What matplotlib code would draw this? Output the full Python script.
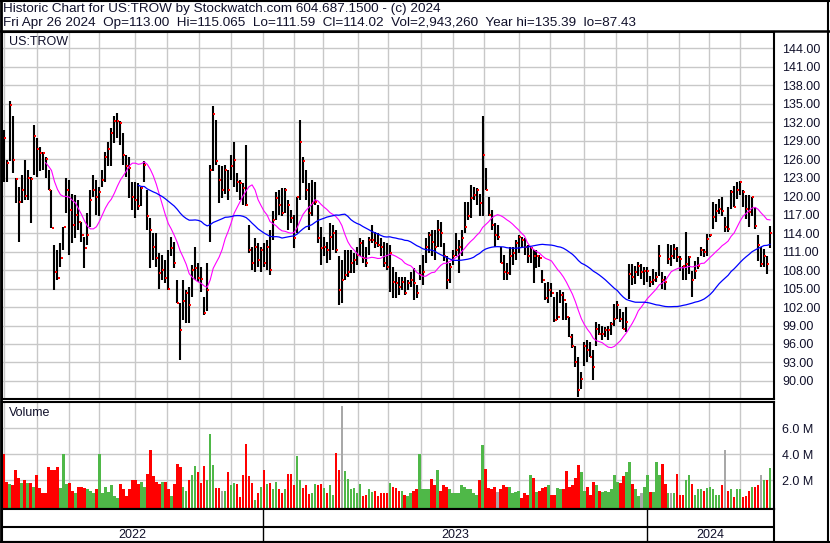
import numpy as np
import pandas as pd
import matplotlib
matplotlib.use('Agg')
import matplotlib.pyplot as plt
from matplotlib.lines import Line2D

plt.rcParams['font.family'] = ['Liberation Sans', 'DejaVu Sans']

# price bars, one entry per ~2 sessions (May 2022 - Apr 26 2024)
hi = [130.7, 125.85, 135.39, 132.9, 122.9, 121.5, 123.4, 125.85, 124.2, 123.1,
      131.5, 129.4, 128.0, 127.2, 126.4, 124.2, 121.0, 112.1, 111.3, 112.3,
      115.0, 122.9, 122.6, 120.4, 120.2, 119.4, 115.85, 113.4, 117.2, 121.0,
      123.4, 122.6, 121.5, 124.2, 127.2, 128.8, 131.0, 132.9, 133.4, 132.1,
      130.2, 126.7, 126.4, 122.3, 122.3, 122.1, 121.5, 125.6, 121.0, 116.4,
      113.95, 113.95, 110.7, 110.4, 109.6, 111.3, 113.4, 112.6, 106.4, 102.6,
      106.4, 104.8, 105.3, 108.8, 111.8, 109.1, 108.5,
      103.7, 109.1, 125.0, 134.6, 132.3, 125.0, 124.8, 125.0, 124.2, 126.7,
      128.8, 123.7, 122.6, 122.1, 128.3, 115.3, 111.8, 113.15, 112.3, 111.8,
      112.3, 112.9, 114.5, 117.5, 120.7, 121.0, 121.25, 121.25, 119.4, 117.7,
      116.9, 119.9, 132.4, 126.4, 124.2, 122.1, 122.6, 122.3, 118.5, 115.0,
      113.4, 112.6, 115.6, 115.3, 114.5, 110.2, 109.6, 111.3, 111.3, 111.3,
      110.7, 111.8, 113.15, 112.9, 111.8, 113.4, 115.3, 114.2, 113.95, 113.15,
      112.6, 112.3, 112.1,
      108.5, 107.7, 106.9, 106.9, 106.9, 106.4, 107.7, 108.3, 105.6, 108.8,
      110.4, 113.15, 114.2, 114.5, 114.5, 116.1, 115.85, 112.3, 110.2, 109.1,
      111.3, 113.95, 112.9, 114.5, 119.1, 119.1, 121.8, 121.5, 121.25, 120.4,
      132.9, 124.5, 119.9, 117.7, 115.6, 115.3, 111.8, 110.4, 109.1, 111.8,
      111.8, 112.9, 113.7, 113.4, 113.15, 112.1, 111.8, 111.3, 111.3, 110.4,
      108.0, 105.9, 106.1, 105.9, 103.7, 104.5, 104.8, 104.5, 102.6, 100.4,
      97.7, 95.6, 93.95,
      91.4, 96.3, 96.6, 96.3, 94.95, 99.6, 99.3, 99.0, 98.7, 99.0,
      99.6, 102.5, 103.05, 101.7, 101.2, 102.0, 109.0, 109.0, 108.7, 109.3,
      109.0, 108.5, 108.5, 107.1, 108.2, 107.65, 112.0, 107.65, 107.1, 112.25,
      112.0, 112.25, 111.7, 110.35, 108.7, 114.1, 110.35, 107.9, 109.5, 110.1,
      111.7, 111.4, 113.9, 113.9, 119.0, 118.7, 119.5, 119.8, 116.6, 118.2,
      120.9, 121.7, 122.25, 122.5, 120.9, 120.1, 120.1, 119.8, 118.2, 113.6,
      111.7, 111.4, 110.35, 115.065]

lo = [122.3, 122.3, 125.6, 123.7, 118.8, 112.6, 118.8, 119.4, 119.4, 115.6,
      123.4, 123.1, 124.0, 124.2, 122.9, 121.0, 114.8, 104.8, 106.4, 108.5,
      111.3, 117.2, 110.4, 112.3, 113.15, 114.5, 112.6, 108.3, 112.1, 115.0,
      119.9, 116.9, 116.7, 121.5, 122.3, 124.8, 124.8, 128.6, 129.4, 128.3,
      125.0, 123.1, 119.6, 117.7, 116.4, 117.7, 118.3, 122.3, 114.5, 108.3,
      109.6, 108.5, 105.0, 106.4, 105.9, 104.8, 110.2, 108.3, 102.6, 93.4,
      99.9, 99.4, 99.4, 103.7, 106.4, 106.1, 104.5,
      100.7, 101.3, 112.6, 124.0, 125.0, 118.8, 119.6, 120.4, 119.4, 122.6,
      121.5, 120.7, 119.4, 118.5, 118.3, 110.7, 108.0, 107.7, 108.5, 107.7,
      108.5, 108.0, 107.2, 112.9, 116.1, 116.9, 116.7, 117.2, 114.5, 115.6,
      111.5, 113.95, 119.4, 122.1, 119.4, 114.5, 116.7, 118.5, 112.3, 108.8,
      110.2, 109.1, 109.6, 111.3, 110.7, 102.3, 102.6, 106.4, 106.9, 107.5,
      107.5, 108.8, 110.2, 109.1, 108.5, 110.4, 112.3, 111.5, 111.8, 110.2,
      108.5, 108.0, 104.5,
      103.4, 103.4, 104.0, 104.8, 104.0, 104.8, 105.3, 103.1, 103.4, 106.4,
      105.6, 109.1, 110.7, 110.2, 109.6, 111.8, 111.8, 109.4, 105.0, 105.9,
      108.8, 110.2, 107.5, 110.2, 113.95, 116.1, 116.4, 119.4, 118.5, 116.7,
      116.7, 121.0, 116.7, 114.5, 111.8, 112.9, 109.1, 106.4, 106.4, 107.2,
      108.8, 109.6, 110.7, 111.5, 110.4, 109.1, 109.1, 105.9, 108.3, 108.5,
      105.9, 103.1, 102.6, 103.7, 99.6, 99.9, 102.6, 99.9, 99.9, 97.2,
      95.3, 92.3, 87.43,
      88.7, 92.5, 93.05, 93.9, 90.1, 95.75, 97.4, 96.6, 97.1, 96.6,
      97.4, 99.0, 100.1, 99.6, 98.5, 97.9, 103.3, 105.5, 105.8, 107.1,
      106.6, 105.5, 106.0, 105.2, 105.5, 106.0, 107.1, 105.0, 104.7, 109.0,
      108.7, 109.8, 109.3, 107.9, 106.3, 106.3, 107.4, 103.6, 106.6, 108.2,
      110.35, 110.1, 110.35, 113.3, 114.7, 115.8, 117.1, 116.8, 114.1, 114.1,
      117.9, 118.2, 119.5, 120.1, 118.2, 116.3, 115.0, 116.8, 114.7, 109.5,
      108.5, 108.5, 107.4, 111.59]

cl = [129.4, 125.3, 134.7, 125.85, 122.8, 119.1, 121.0, 120.0, 122.9, 122.8,
      129.8, 127.6, 127.0, 126.9, 126.0, 121.0, 114.8, 107.7, 106.7, 109.9,
      115.0, 121.0, 117.7, 115.3, 116.9, 115.85, 113.7, 111.5, 113.6, 119.4,
      121.0, 119.9, 120.7, 122.6, 126.4, 127.7, 130.2, 132.1, 132.2, 131.8,
      126.7, 124.8, 124.5, 119.9, 119.4, 118.3, 121.25, 125.0, 116.7, 114.5,
      111.8, 109.9, 107.5, 108.0, 106.7, 104.9, 111.5, 109.1, 102.7, 98.3,
      102.9, 104.2, 102.3, 108.0, 108.3, 106.7, 106.5,
      101.1, 104.8, 124.2, 133.3, 125.6, 122.6, 121.0, 124.2, 121.0, 124.8,
      125.85, 122.3, 122.1, 121.25, 118.5, 111.3, 109.1, 111.8, 109.6, 111.3,
      109.1, 111.8, 108.0, 116.1, 119.6, 118.5, 117.2, 121.0, 118.5, 116.5,
      113.15, 119.9, 128.7, 125.7, 121.0, 117.2, 118.8, 119.1, 113.15, 111.5,
      111.8, 111.3, 113.4, 113.95, 111.3, 104.8, 106.4, 107.2, 107.7, 109.1,
      109.6, 110.4, 112.3, 109.9, 109.1, 112.9, 112.9, 112.3, 112.1, 111.8,
      109.1, 108.5, 110.7,
      106.0, 105.9, 105.3, 106.1, 104.2, 105.9, 106.4, 105.9, 104.2, 107.2,
      107.7, 111.8, 113.7, 112.6, 111.8, 114.5, 113.95, 110.2, 106.4, 108.5,
      110.2, 111.3, 111.8, 113.15, 115.0, 116.7, 119.6, 120.2, 121.0, 118.8,
      126.7, 121.0, 116.9, 115.3, 113.7, 113.4, 109.1, 107.7, 107.5, 110.2,
      110.7, 112.3, 113.4, 112.9, 111.8, 110.2, 111.5, 110.2, 110.2, 109.9,
      106.4, 103.4, 104.8, 104.2, 99.9, 100.4, 104.0, 103.1, 100.4, 97.2,
      95.6, 93.1, 88.6,
      90.35, 95.75, 94.95, 93.9, 92.25, 98.5, 97.65, 97.65, 98.2, 98.2,
      99.3, 100.1, 102.25, 100.1, 98.5, 99.6, 107.4, 106.8, 107.65, 108.7,
      107.65, 107.9, 107.9, 106.0, 106.3, 106.8, 110.35, 106.3, 106.0, 109.8,
      110.35, 111.4, 110.1, 109.8, 108.7, 109.0, 110.1, 106.3, 107.9, 108.7,
      111.2, 110.9, 113.1, 113.6, 116.6, 117.65, 117.9, 117.65, 115.0, 114.7,
      120.6, 118.2, 120.9, 122.25, 120.6, 117.9, 117.4, 119.8, 115.2, 112.0,
      109.0, 110.35, 109.0, 114.02]

# volume in millions, same sampling
vol = [4.0, 1.86, 1.7, 1.6, 2.8, 2.2, 1.8, 2.0, 1.8, 1.8,
       1.5, 2.4, 1.4, 1.0, 1.0, 3.0, 2.8, 2.8, 3.0, 1.4,
       4.0, 1.7, 1.8, 1.2, 1.0, 1.5, 1.5, 1.4, 1.35, 1.2,
       1.0, 1.3, 4.0, 1.0, 1.5, 1.1, 1.6, 0.8, 0.6, 1.7,
       1.3, 0.8, 1.3, 2.0, 2.0, 1.7, 1.85, 1.5, 2.45, 4.3,
       2.3, 1.9, 1.7, 1.9, 1.9, 1.3, 0.8, 1.7, 3.25, 3.0,
       1.5, 1.2, 2.0, 2.4, 3.1, 2.6, 1.8, 3.1, 2.0, 5.55,
       3.2, 1.4, 1.4, 1.2, 1.2, 2.6, 1.6, 1.8, 1.7, 0.7,
       2.4, 4.8, 2.3, 1.8, 0.5, 1.0, 1.5, 2.8, 1.7, 1.8,
       1.3, 1.9, 1.3, 1.0, 1.3, 2.5, 2.5, 1.6, 3.9, 2.0,
       1.4, 1.65, 0.96, 1.0, 1.7, 1.6, 1.7, 1.4, 1.0, 1.6,
       0.9, 4.1, 2.8, 7.73, 2.7, 2.1, 1.3, 1.4, 1.0, 1.7,
       0.8, 0.9, 1.3, 1.1, 1.2, 0.8, 1.0, 1.0, 1.0, 1.8,
       1.5, 1.4, 1.2, 1.2, 0.9, 0.8, 1.0, 1.2, 1.3, 4.0,
       1.3, 1.3, 1.3, 2.1, 1.6, 2.8, 1.2, 1.6, 1.5, 1.3,
       1.0, 1.0, 1.0, 1.6, 1.5, 1.3, 1.3, 1.0, 0.9, 2.0,
       4.7, 2.9, 1.4, 1.3, 1.5, 1.1, 1.3, 1.6, 1.5, 1.5,
       1.0, 1.1, 1.2, 0.6, 1.0, 0.9, 2.4, 2.2, 1.1, 1.2,
       1.4, 1.5, 1.6, 0.9, 0.9, 1.4, 1.3, 1.3, 2.7, 1.5,
       1.6, 2.2, 3.2, 2.6, 1.2, 1.5, 0.9, 1.9, 1.6, 1.2,
       1.1, 1.2, 1.1, 1.3, 2.4, 1.9, 1.8, 2.3, 2.6, 3.4,
       1.7, 1.3, 0.8, 1.0, 1.5, 2.4, 1.1, 1.1, 3.4, 2.4,
       3.25, 1.7, 1.0, 1.0, 1.0, 2.5, 0.9, 0.9, 2.0, 2.4,
       1.7, 0.9, 1.3, 1.3, 1.2, 1.4, 1.5, 1.3, 0.9, 0.9,
       1.6, 4.35, 1.2, 1.3, 0.7, 1.3, 1.3, 0.7, 0.8, 1.2,
       1.5, 1.5, 1.6, 2.4, 2.0, 2.0, 2.943]
flat_days = [73, 113, 165, 213, 223, 241, 253]   # unchanged closes -> grey volume

price_ticks = np.arange(90, 145, 3)
vol_ticks = [2, 4, 6]

title1 = 'Historic Chart for US:TROW by Stockwatch.com 604.687.1500 - (c) 2024'
title2 = ('Fri Apr 26 2024  Op=113.00  Hi=115.065  Lo=111.59  Cl=114.02  '
          'Vol=2,943,260  Year hi=135.39  lo=87.43')

# NYSE holidays in the span, to get the trading-day axis
holidays = ['2022-05-30', '2022-06-20', '2022-07-04', '2022-09-05', '2022-11-24',
            '2022-12-26', '2023-01-02', '2023-01-16', '2023-02-20', '2023-04-07',
            '2023-05-29', '2023-06-19', '2023-07-04', '2023-09-04', '2023-11-23',
            '2023-12-25', '2024-01-01', '2024-01-15', '2024-02-19', '2024-03-29']
days = pd.bdate_range('2022-04-29', '2024-04-26', freq='C', holidays=holidays)
n_days = len(days)
xs = np.linspace(0, n_days - 1, len(cl))
step = xs[1] - xs[0]

ma_fast = pd.Series(cl).rolling(15).mean()
ma_slow = pd.Series(cl).rolling(46).mean()

up = np.r_[False, np.diff(cl) >= 0]
colors = np.where(up, '#4fb848', '#ff0000').astype(object)
colors[flat_days] = '#a8a8a8'

month_starts = np.where(days.month[1:] != days.month[:-1])[0] + 1 - 0.5
year_starts = np.where(days.year[1:] != days.year[:-1])[0] + 1 - 0.5
xlim = (-1.04, n_days + 1.6)

W, H = 830, 543
fig = plt.figure(figsize=(W / 100, H / 100), dpi=100)


def box(x0, y0, x1, y1):
    # axes placed by pixel edges, y measured from the top
    return fig.add_axes([x0 / W, 1 - y1 / H, (x1 - x0) / W, (y1 - y0) / H])


def hline(y, x0, x1, lw=1.5):
    fig.add_artist(Line2D([x0 / W, x1 / W], [1 - y / H, 1 - y / H], color='black', lw=lw))


def vline(x, y0, y1, lw=1.5):
    fig.add_artist(Line2D([x / W, x / W], [1 - y0 / H, 1 - y1 / H], color='black', lw=lw))


grid_col = '#c8c8c8'
txt = dict(fontsize=9, color='#10102a')

# price panel
ax = box(2, 32, 774, 399)
ax.vlines(xs, lo, hi, color='black', lw=1.5, zorder=3)
ax.plot(xs + 0.7, cl, 's', color='red', ms=1.6, mew=0, zorder=4)
ax.plot(xs, ma_fast, color='#ff00ff', lw=0.8, zorder=5)
ax.plot(xs, ma_slow, color='#0000ff', lw=0.9, zorder=5)
ax.set_xlim(xlim)
ax.set_ylim(87.08, 146.6)
ax.set_yticks(price_ticks)
ax.set_yticklabels(['%.2f' % v for v in price_ticks])
ax.yaxis.tick_right()
ax.set_xticks(month_starts)
ax.set_xticklabels([])
ax.tick_params(length=0, labelsize=9, pad=6, labelcolor='#10102a')
ax.grid(color=grid_col, lw=1.0)
ax.set_axisbelow(True)
ax.text(7 / 772, 1 - 10 / 367, 'US:TROW', transform=ax.transAxes, va='center', ha='left', **txt)

# volume panel
av = box(2, 402, 774, 509)
vmin = -0.21
av.bar(xs, np.array(vol) - vmin, bottom=vmin, width=step * 0.85, color=list(colors), lw=0)
av.set_xlim(xlim)
av.set_ylim(vmin, 8.02)
av.set_yticks(vol_ticks)
av.set_yticklabels(['%.1f M' % v for v in vol_ticks])
av.yaxis.tick_right()
av.set_xticks(month_starts)
av.set_xticklabels([])
av.tick_params(length=0, labelsize=9, pad=6, labelcolor='#10102a')
av.grid(color=grid_col, lw=1.0)
av.set_axisbelow(True)
av.text(7 / 772, 1 - 11 / 107, 'Volume', transform=av.transAxes, va='center', ha='left', **txt)

# year strip
ad = box(2, 509, 774, 542)
ad.set_xlim(xlim)
ad.set_ylim(0, 33)
ad.set_xticks([])
ad.set_yticks([])
ad.axhline(33 - 17.5, color='black', lw=1.5)
ad.vlines(year_starts, 0, 33, color='black', lw=1.0)
edges = np.r_[xlim[0], year_starts, xlim[1]]
years = sorted(set(days.year))
for a, b, yr in zip(edges[:-1], edges[1:], years):
    ad.text((a + b) / 2, 7.5, str(yr), ha='center', va='center', **txt)

for a in (ax, av, ad):
    for s in a.spines.values():
        s.set_color('black')
        s.set_linewidth(1.5)

# header and outer frame
head = dict(txt, fontsize=9.7)
fig.text(3 / W, 1 - 9 / H, title1, ha='left', va='center', **head)
fig.text(3 / W, 1 - 23 / H, title2, ha='left', va='center', **head)
hline(0.7, 0, 830)
hline(31.2, 0, 830, lw=1.8)
hline(541.8, 0, 830)
vline(0.8, 0, 543, lw=2)
vline(828.3, 0, 543)

fig.savefig('out.png', dpi=100)
